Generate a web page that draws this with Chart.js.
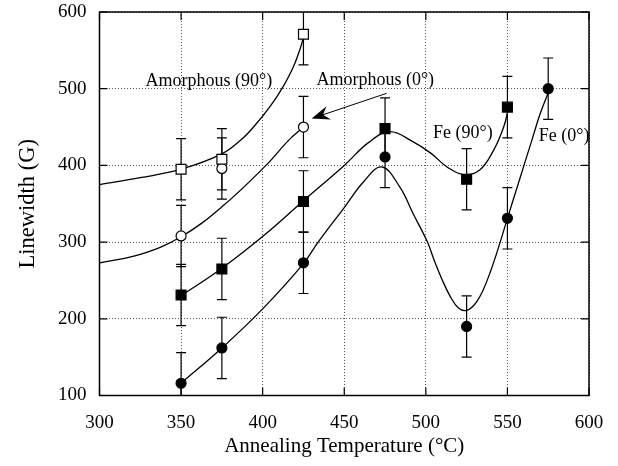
<!DOCTYPE html>
<html>
<head>
<meta charset="utf-8">
<script src="https://cdn.jsdelivr.net/npm/chart.js@4.4.1/dist/chart.umd.min.js"></script>
<style>
  html, body { margin: 0; padding: 0; background: #fff; }
</style>
</head>
<body>
<canvas id="chart" width="618" height="466"></canvas>
<script>
const SERIF = "'Liberation Serif', 'Times New Roman', serif"

// measured points (temperature in °C, linewidth in G), error bars +-G
const amorph90X = [350, 375, 425]
const amorph90Y = [395, 408, 571]
const amorph90Err = [40, 40, 40]

const amorph0X = [350, 375, 425]
const amorph0Y = [308, 396, 450]
const amorph0Err = [40, 40, 40]

const fe90X = [350, 375, 425, 475, 525, 550]
const fe90Y = [231, 265, 353, 448, 382, 476]
const fe90Err = [40, 40, 40, 40, 40, 40]

const fe0X = [350, 375, 425, 475, 525, 550, 575]
const fe0Y = [116, 162, 273, 411, 190, 331, 500]
const fe0Err = [40, 40, 40, 40, 40, 40, 40]

// guide curves
const amorph90CurveX = [300, 325, 350, 375, 386.6, 394.4, 404.6, 411.8, 418.9, 424, 425]
const amorph90CurveY = [375, 384, 395, 415, 433, 450, 477, 500, 529, 559, 571]

const amorph0CurveX = [300, 325, 350, 375, 402, 416, 425]
const amorph0CurveY = [273, 284, 307, 346, 400, 433, 450]

const fe90CurveX = [350, 375, 402, 425, 450, 465, 478, 492, 503, 513, 523, 533, 541.6, 547.7, 550.8]
const fe90CurveY = [230, 266, 311, 354, 400, 430, 444, 431, 416, 398, 388, 394, 420, 450, 476]

const fe0CurveX = [350, 375, 400, 425, 434, 450, 462, 473, 484, 492, 501, 505, 510, 515, 520, 525, 530, 535, 540, 545, 550, 555, 560, 565, 570, 576]
const fe0CurveY = [116, 162, 213, 272, 300, 345, 379, 398, 372, 338, 300, 277, 251, 229, 214, 211, 219, 237, 264, 296, 331, 365, 399, 433, 467, 500]

const xTicks = [300, 350, 400, 450, 500, 550, 600]
const yTicks = [100, 200, 300, 400, 500, 600]

// text labels in data coordinates
const labelTexts = ['Amorphous (90°)', 'Amorphous (0°)', 'Fe (90°)', 'Fe (0°)']
const labelX = [367, 469, 522.7, 584.7]
const labelY = [510, 511, 442, 437.5]
const arrowFrom = [476, 494]
const arrowTo = [430, 461]

const toPoints = (xs, ys) => xs.map((v, i) => ({ x: v, y: ys[i] }))

const curve = (xs, ys) => ({
  data: toPoints(xs, ys),
  showLine: true,
  pointRadius: 0,
  borderColor: '#000',
  borderWidth: 1.3,
  tension: 0.4,
  order: 2
})

const markers = (xs, ys, errs, style, filled) => ({
  data: toPoints(xs, ys),
  errs: errs,
  showLine: false,
  pointStyle: style,
  pointRadius: style === 'rect' ? 7 : 5,
  pointBorderWidth: 1.2,
  borderColor: '#000',
  backgroundColor: filled ? '#000' : '#fff',
  order: 1
})

const decor = {
  id: 'decor',
  beforeDatasetsDraw(chart) {
    const { ctx, chartArea: a, scales: { x, y } } = chart
    ctx.save()
    ctx.beginPath()
    ctx.rect(a.left, a.top, a.right - a.left, a.bottom - a.top)
    ctx.clip()
    ctx.strokeStyle = '#000'
    ctx.lineWidth = 1.2
    chart.data.datasets.forEach(ds => {
      if (!ds.errs) return
      ds.data.forEach((p, i) => {
        const px = x.getPixelForValue(p.x)
        const top = y.getPixelForValue(p.y + ds.errs[i])
        const bot = y.getPixelForValue(p.y - ds.errs[i])
        ctx.beginPath()
        ctx.moveTo(px, top); ctx.lineTo(px, bot)
        ctx.moveTo(px - 5, top); ctx.lineTo(px + 5, top)
        ctx.moveTo(px - 5, bot); ctx.lineTo(px + 5, bot)
        ctx.stroke()
      })
    })
    ctx.restore()
  },
  afterDatasetsDraw(chart) {
    const { ctx, chartArea: a, scales: { x, y } } = chart
    ctx.save()
    // frame + inward ticks
    ctx.strokeStyle = '#000'
    ctx.lineWidth = 1.5
    ctx.strokeRect(a.left, a.top, a.right - a.left, a.bottom - a.top)
    ctx.lineWidth = 1.2
    ctx.beginPath()
    x.ticks.forEach(t => {
      const px = x.getPixelForValue(t.value)
      ctx.moveTo(px, a.bottom); ctx.lineTo(px, a.bottom - 8)
      ctx.moveTo(px, a.top); ctx.lineTo(px, a.top + 8)
    })
    y.ticks.forEach(t => {
      const py = y.getPixelForValue(t.value)
      ctx.moveTo(a.left, py); ctx.lineTo(a.left + 8, py)
      ctx.moveTo(a.right, py); ctx.lineTo(a.right - 8, py)
    })
    ctx.stroke()

    // labels
    ctx.fillStyle = '#000'
    ctx.font = '18px ' + SERIF
    ctx.textAlign = 'center'
    ctx.textBaseline = 'middle'
    labelTexts.forEach((txt, i) => {
      ctx.fillText(txt, x.getPixelForValue(labelX[i]), y.getPixelForValue(labelY[i]))
    })

    // arrow to the amorphous (0°) point
    const x0 = x.getPixelForValue(arrowFrom[0]), y0 = y.getPixelForValue(arrowFrom[1])
    const x1 = x.getPixelForValue(arrowTo[0]), y1 = y.getPixelForValue(arrowTo[1])
    const len = Math.hypot(x1 - x0, y1 - y0)
    const dx = (x1 - x0) / len, dy = (y1 - y0) / len
    const nx = -dy, ny = dx
    ctx.lineWidth = 1
    ctx.beginPath()
    ctx.moveTo(x0, y0)
    ctx.lineTo(x1 - dx * 10, y1 - dy * 10)
    ctx.stroke()
    ctx.beginPath()
    ctx.moveTo(x1, y1)
    ctx.lineTo(x1 - dx * 18 + nx * 7, y1 - dy * 18 + ny * 7)
    ctx.lineTo(x1 - dx * 12, y1 - dy * 12)
    ctx.lineTo(x1 - dx * 18 - nx * 7, y1 - dy * 18 - ny * 7)
    ctx.closePath()
    ctx.fill()
    ctx.restore()
  }
}

new Chart(document.getElementById('chart'), {
  type: 'scatter',
  data: {
    datasets: [
      curve(amorph90CurveX, amorph90CurveY),
      curve(amorph0CurveX, amorph0CurveY),
      curve(fe90CurveX, fe90CurveY),
      curve(fe0CurveX, fe0CurveY),
      markers(amorph90X, amorph90Y, amorph90Err, 'rect', false),
      markers(amorph0X, amorph0Y, amorph0Err, 'circle', false),
      markers(fe90X, fe90Y, fe90Err, 'rect', true),
      markers(fe0X, fe0Y, fe0Err, 'circle', true)
    ]
  },
  options: {
    responsive: false,
    animation: false,
    layout: { padding: { top: 12, right: 29, left: 0, bottom: 0 } },
    plugins: { legend: { display: false }, tooltip: { enabled: false } },
    scales: {
      x: {
        type: 'linear',
        min: 300,
        max: 600,
        afterBuildTicks: s => { s.ticks = xTicks.map(v => ({ value: v })) },
        afterFit: s => { s.height = 70.5; s.paddingLeft = 0; s.paddingRight = 0 },
        grid: { color: '#555', lineWidth: 1, drawTicks: false },
        border: { display: false, dash: [1, 2] },
        ticks: { color: '#000', padding: 16, font: { family: SERIF, size: 19 } },
        title: {
          display: true,
          text: 'Annealing Temperature (°C)',
          color: '#000',
          padding: { top: 0, bottom: 7 },
          font: { family: SERIF, size: 21 }
        }
      },
      y: {
        type: 'linear',
        min: 100,
        max: 600,
        afterBuildTicks: s => { s.ticks = yTicks.map(v => ({ value: v })) },
        afterFit: s => { s.width = 99.5; s.paddingTop = 0; s.paddingBottom = 0 },
        grid: { color: '#555', lineWidth: 1, drawTicks: false },
        border: { display: false, dash: [1, 2] },
        ticks: { color: '#000', padding: 13, font: { family: SERIF, size: 19 } },
        title: {
          display: true,
          text: 'Linewidth (G)',
          color: '#000',
          padding: { top: 15, bottom: 0 },
          font: { family: SERIF, size: 22.5 }
        }
      }
    }
  },
  plugins: [decor]
})
</script>
</body>
</html>
